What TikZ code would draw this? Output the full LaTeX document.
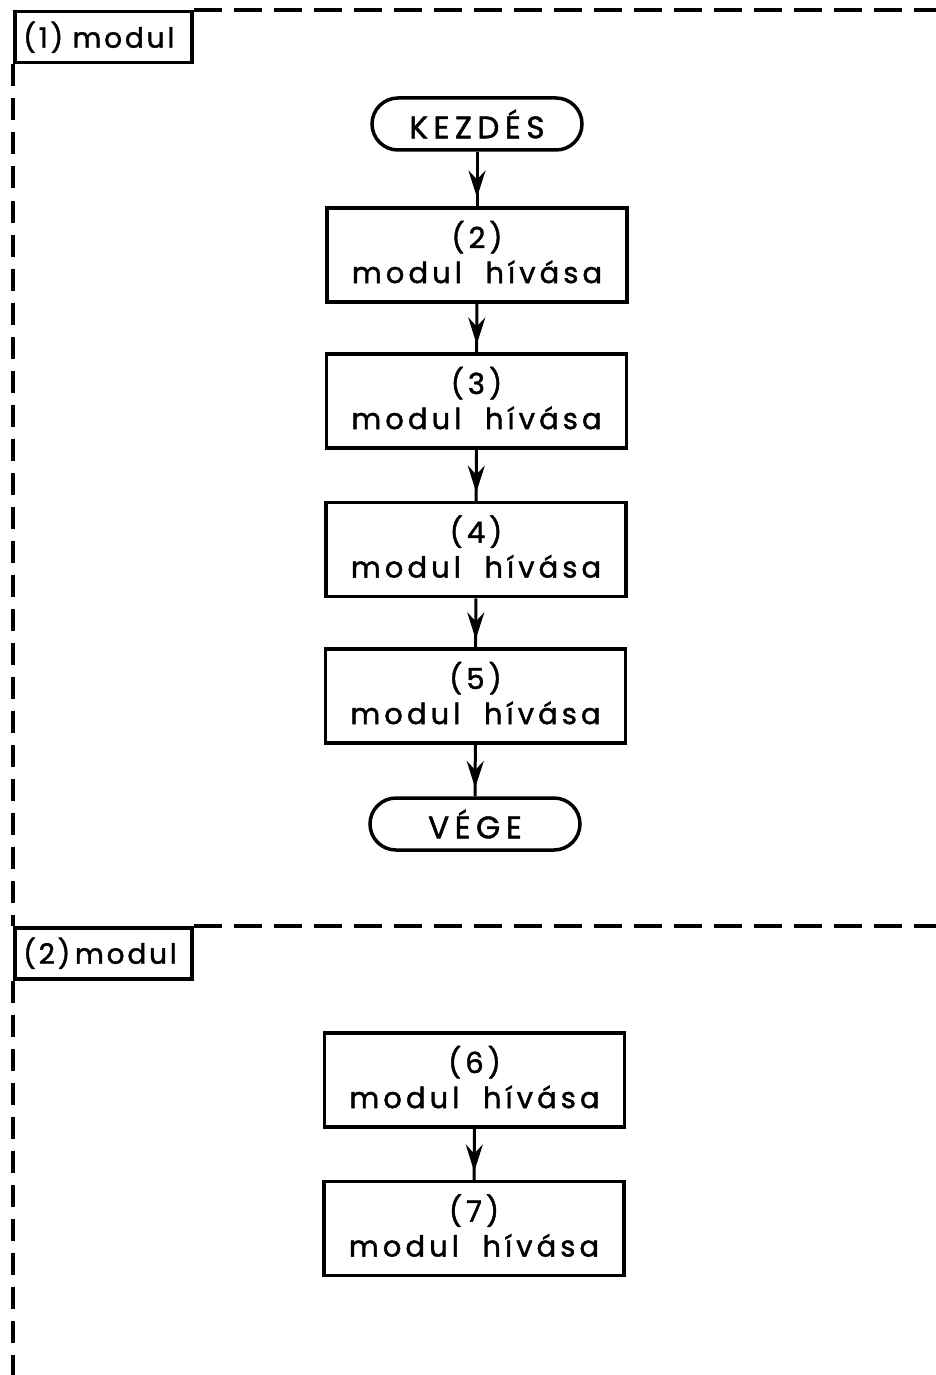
\documentclass[tikz,border=0pt]{standalone}
\usepackage{fontspec}
\setmainfont{Poppins}
\newfontfamily\boxfont{Poppins}[LetterSpace=14,FakeBold=1.5]
\newfontfamily\termfont{Poppins}[LetterSpace=18,FakeBold=1.6]
\newfontfamily\labfont{Poppins}[LetterSpace=10,FakeBold=1.5]
\usetikzlibrary{arrows.meta,decorations.markings}
\begin{document}
\begin{tikzpicture}[x=1pt,y=-1pt,
  box/.style={draw,line width=3.5pt,minimum width=300pt,minimum height=94pt,align=center,inner sep=0pt,text depth=6pt,font=\boxfont\fontsize{29}{35}\selectfont},
  term/.style={draw,line width=3.5pt,rounded corners=26pt,minimum width=210pt,minimum height=52pt,inner sep=0pt,font=\termfont\fontsize{31}{32}\selectfont},
  lab/.style={draw,line width=3.5pt,anchor=north west,text width=160pt,inner xsep=8.5pt,minimum height=51pt,align=left,font=\labfont\fontsize{28}{30}\selectfont},
  conn/.style={line width=3pt,postaction={decorate},decoration={markings,mark=at position 0.84 with {\arrow{Stealth[length=27pt,width=17pt,inset=9pt]}}}},
  frameline/.style={line width=3.2pt,dash pattern=on 28pt off 12pt},
  vline/.style={line width=3.2pt,dash pattern=on 22pt off 12pt}]
\useasboundingbox (0,0) rectangle (936,1375);
\node[lab] (m1) at (13,10) {(1) modul};
\node[lab] (m2) at (13,926) {(2)\,modul};
\coordinate (t1) at (936,10);
\coordinate (t2) at (936,926);
\coordinate (bl) at (13,1375);
\draw[frameline] (m1.north east) -- (t1);
\draw[frameline] (m2.north east) -- (t2);
\draw[vline] (m1.south west) -- (m2.north west);
\draw[vline] (m2.south west) -- (bl);

\node[term] (start) at (477,124) {KEZDÉS};
\node[box] (b2) at (477,255) {(2)\\modul\ \ hívása};
\node[box] (b3) at (476.5,401) {(3)\\modul\ \ hívása};
\node[box] (b4) at (476,549.5) {(4)\\modul\ \ hívása};
\node[box] (b5) at (475.5,696) {(5)\\modul\ \ hívása};
\node[term] (end) at (475,824) {VÉGE};
\node[box] (b6) at (474.5,1080) {(6)\\modul\ \ hívása};
\node[box] (b7) at (474,1228.5) {(7)\\modul\ \ hívása};

\draw[conn] (start) -- (b2);
\draw[conn] (b2) -- (b3);
\draw[conn] (b3) -- (b4);
\draw[conn] (b4) -- (b5);
\draw[conn] (b5) -- (end);
\draw[conn] (b6) -- (b7);
\end{tikzpicture}
\end{document}
